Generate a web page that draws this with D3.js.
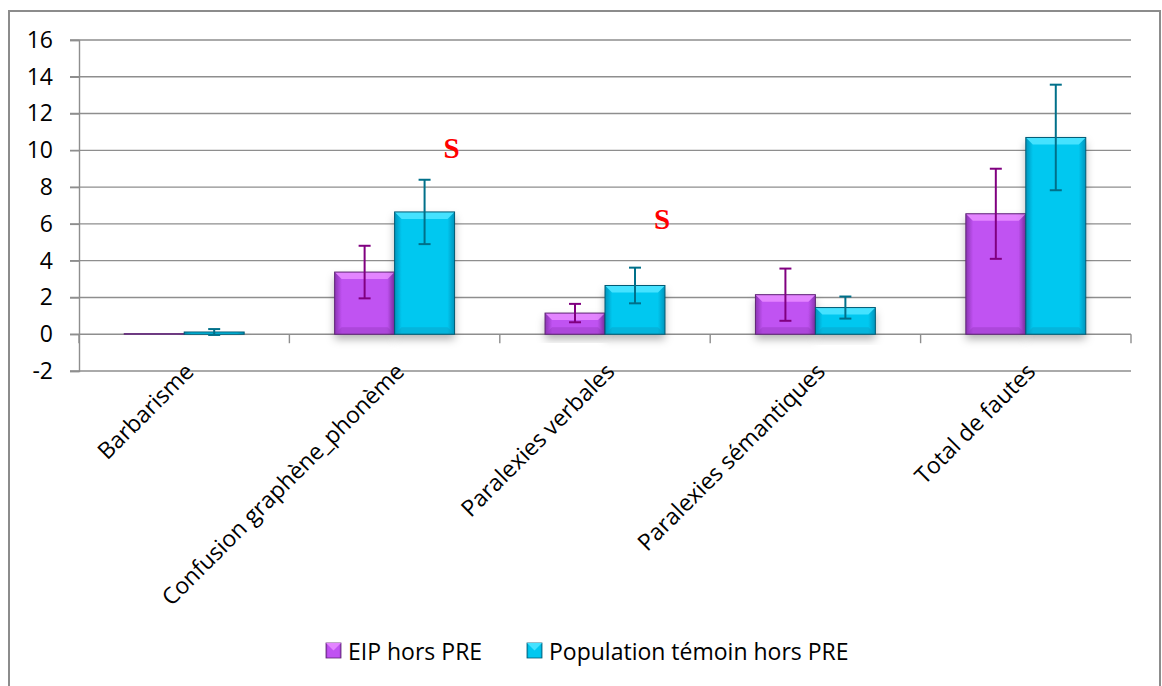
<!DOCTYPE html>
<html><head><meta charset="utf-8">
<script src="https://cdn.jsdelivr.net/npm/d3@7"></script>
<style>body{margin:0;background:#fff}svg{display:block}</style>
</head><body>
<script>
const categories = ["Barbarisme","Confusion graphène_phonème","Paralexies verbales","Paralexies sémantiques","Total de fautes"];
const seriesNames = ["EIP hors PRE","Population témoin hors PRE"];
const eipValues = [0.03, 3.38, 1.15, 2.15, 6.55];
const eipErrors = [0.02, 1.43, 0.5, 1.42, 2.45];
const temoinValues = [0.12, 6.65, 2.65, 1.45, 10.7];
const temoinErrors = [0.16, 1.75, 0.97, 0.6, 2.87];
const yTicks = [-2,0,2,4,6,8,10,12,14,16];
const sigCategories = ["Confusion graphène_phonème","Paralexies verbales"];
const sigLevels = [9.6, 5.7];
const sigLabel = "S";

const W = 1162, H = 686;
const FONT = "Open Sans", FS = 23;
const svg = d3.select("body").append("svg").attr("width", W).attr("height", H);
const defs = svg.append("defs");

const styles = [
  {face:"#c052f2", dark:"#8a34b2", light:"#e384ff", bottom:"#9a3cc4", stroke:"#5e2474", err:"#800080"},
  {face:"#00c8f0", dark:"#0094bc", light:"#45e2ff", bottom:"#0aa2c8", stroke:"#005a74", err:"#00708a"}
];
styles.forEach((s,i)=>{
  const g = defs.append("linearGradient").attr("id","g"+i).attr("x1",0).attr("x2",1).attr("y1",0).attr("y2",0);
  g.append("stop").attr("offset","0").attr("stop-color",s.dark);
  g.append("stop").attr("offset","0.12").attr("stop-color",s.face);
  g.append("stop").attr("offset","0.88").attr("stop-color",s.face);
  g.append("stop").attr("offset","1").attr("stop-color",s.dark);
});
const f = defs.append("filter").attr("id","sh").attr("x","-20%").attr("y","-20%").attr("width","140%").attr("height","160%");
f.append("feDropShadow").attr("dx",0).attr("dy",5).attr("stdDeviation",4).attr("flood-color","#000").attr("flood-opacity",0.3);

// outer border
svg.append("rect").attr("x",9).attr("y",11).attr("width",1151).attr("height",700)
  .attr("fill","none").attr("stroke","#8c8c8c").attr("stroke-width",2);

const x = d3.scaleBand().domain(categories).range([79,1131]).paddingInner(0.43).paddingOuter(0.215);
const xs = d3.scaleBand().domain(seriesNames).range([0, x.bandwidth()]);
const y = d3.scaleLinear().domain([-2,16]).range([371,40]);

// gridlines
svg.append("g").selectAll("line").data(yTicks).join("line")
  .attr("x1",70).attr("x2",1131).attr("y1",d=>y(d)).attr("y2",d=>y(d))
  .attr("stroke","#8e8e8e").attr("stroke-width",1.4);
// y axis
const yAxis = svg.append("g").attr("transform","translate(79,0)")
  .call(d3.axisLeft(y).tickValues(yTicks).tickSize(9).tickPadding(17).tickFormat(d=>String(d)));
yAxis.select(".domain").attr("stroke","#8e8e8e").attr("stroke-width",1.4);
yAxis.selectAll(".tick line").attr("stroke","#8e8e8e").attr("stroke-width",1.4);
yAxis.selectAll("text").attr("font-family",FONT).attr("font-size",FS).attr("fill","#000");

// category boundary ticks at y=0
const bounds = categories.map(c=>x(c)-x.step()*x.paddingInner()/2).concat([1131]);
svg.append("g").selectAll("line").data(bounds).join("line")
  .attr("x1",d=>d).attr("x2",d=>d).attr("y1",y(0)).attr("y2",y(0)+9)
  .attr("stroke","#8e8e8e").attr("stroke-width",1.4);

// x labels
svg.append("g").selectAll("text").data(categories).join("text")
  .attr("transform",d=>`translate(${x(d)+x.bandwidth()/2+11},${y(-2)+2}) rotate(-45)`)
  .attr("text-anchor","end")
  .attr("font-family",FONT).attr("font-size",FS).attr("fill","#000")
  .text(d=>d);

// bars
const data = [];
categories.forEach((c,i)=>{
  data.push({c, s:0, v:eipValues[i], e:eipErrors[i]});
  data.push({c, s:1, v:temoinValues[i], e:temoinErrors[i]});
});
const bars = svg.append("g").selectAll("g").data(data).join("g")
  .attr("transform",d=>`translate(${x(d.c)+xs(seriesNames[d.s])},0)`);
bars.each(function(d){
  const g = d3.select(this), st = styles[d.s];
  const w = xs.bandwidth(), top = y(d.v), bot = y(0), h = bot-top;
  const b = Math.min(7, h/2.2);
  g.append("rect").attr("x",0).attr("y",top).attr("width",w).attr("height",h)
    .attr("fill",`url(#g${d.s})`).attr("filter","url(#sh)");
  if (h > 4) {
    g.append("path").attr("d",`M0,${top}L${w},${top}L${w-b},${top+b}L${b},${top+b}Z`).attr("fill",st.light);
    g.append("path").attr("d",`M0,${bot}L${w},${bot}L${w-b},${bot-b}L${b},${bot-b}Z`).attr("fill",st.bottom).attr("opacity",0.5);
  }
  g.append("rect").attr("x",0).attr("y",top).attr("width",w).attr("height",h)
    .attr("fill","none").attr("stroke",st.stroke).attr("stroke-width",1);
  const cx = w/2, y1 = y(d.v+d.e), y2 = y(d.v-d.e);
  if (d.e > 0.05) {
    g.append("line").attr("x1",cx).attr("x2",cx).attr("y1",y1).attr("y2",y2).attr("stroke",st.err).attr("stroke-width",2);
    [y1,y2].forEach(yy=>g.append("line").attr("x1",cx-6).attr("x2",cx+6).attr("y1",yy).attr("y2",yy).attr("stroke",st.err).attr("stroke-width",2));
  }
});

// significance marks
svg.append("g").selectAll("text").data(sigCategories).join("text")
  .attr("x",(d)=>x(d)+xs(seriesNames[1])+xs.bandwidth()*0.95)
  .attr("y",(d,i)=>y(sigLevels[i]))
  .attr("text-anchor","middle").attr("font-family","Liberation Serif").attr("font-weight","bold")
  .attr("font-size",29).attr("fill","#ff0000").text(sigLabel);

// legend
const legX = [326, 527];
const leg = svg.append("g").selectAll("g").data(seriesNames).join("g")
  .attr("transform",(d,i)=>`translate(${legX[i]},643)`);
leg.append("rect").attr("width",15).attr("height",15).attr("fill",(d,i)=>`url(#g${i})`).attr("stroke",(d,i)=>styles[i].stroke).attr("stroke-width",0.8);
leg.append("path").attr("d","M0,0L15,0L7.5,7.5Z").attr("fill",(d,i)=>styles[i].light);
leg.append("text").attr("x",22).attr("y",17).attr("font-family",FONT).attr("font-size",FS).attr("fill","#000").text(d=>d);
</script>
</body></html>
